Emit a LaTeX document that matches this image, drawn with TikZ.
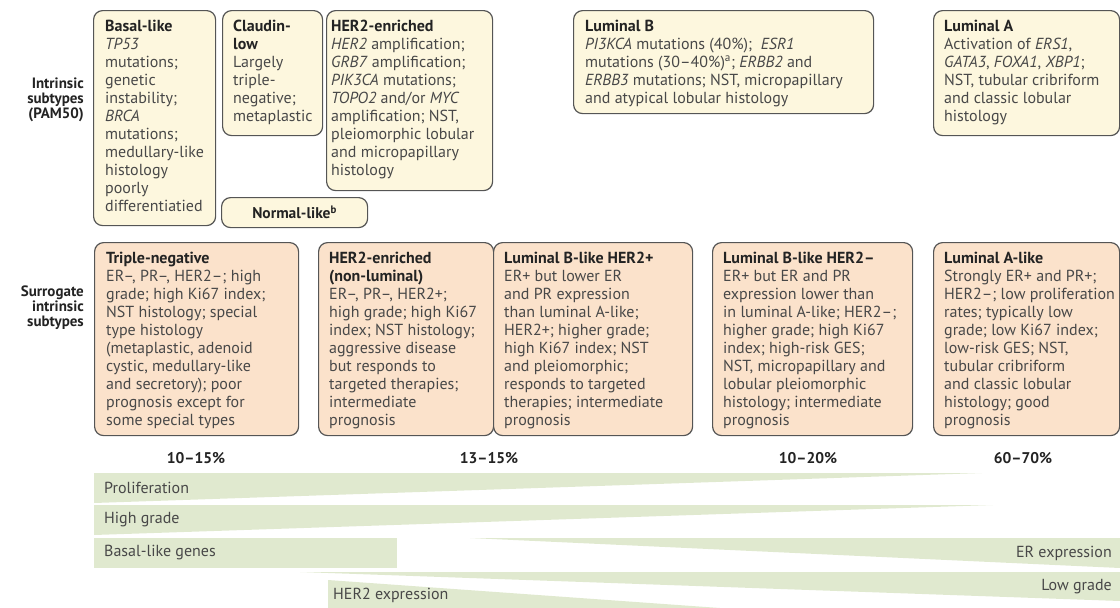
\documentclass[tikz,border=0pt]{standalone}
\usepackage{fontspec}
\setmainfont{PT Sans}
\definecolor{pamfill}{RGB}{253,247,222}
\definecolor{surfill}{RGB}{251,226,203}
\definecolor{bandfill}{RGB}{224,233,207}
\definecolor{boxline}{RGB}{85,85,85}
\definecolor{bodygray}{RGB}{72,72,72}
\definecolor{headgray}{RGB}{35,35,35}
\newcommand{\hdr}[1]{{\bfseries\color{headgray}#1}}

\begin{document}
\begin{tikzpicture}[x=1pt, y=-1pt,
    pam/.style={draw=boxline, fill=pamfill, line width=1.2pt, rounded corners=9pt, anchor=north west, inner sep=0pt},
    sur/.style={pam, fill=surfill},
    txt/.style={anchor=north west, align=left, inner sep=0pt, text=bodygray, font=\fontsize{16}{18}\selectfont},
    side/.style={anchor=east, align=right, inner sep=0pt, text=headgray, font=\bfseries\fontsize{15}{15}\selectfont},
    pct/.style={inner sep=0pt, text=headgray, font=\bfseries\fontsize{15.5}{18}\selectfont},
    band/.style={fill=bandfill},
    bandtxt/.style={inner sep=0pt, text=bodygray, font=\fontsize{16}{18}\selectfont}]
  \useasboundingbox (0,0) rectangle (1120,608);

  % Row labels
  \node[side] (pamlbl) at (84,100) {Intrinsic\\subtypes\\(PAM50)};
  \node[side] (surlbl) at (84,308) {Surrogate\\intrinsic\\subtypes};

  % Intrinsic subtypes (PAM50)
  \node[pam, minimum width=122pt, minimum height=215pt] (basal) at (93,10) {};
  \node[txt] (basaltxt) at ([shift={(12,10)}]basal.north west)
    {\hdr{Basal-like}\\\textit{TP53}\\mutations;\\genetic\\instability;\\\textit{BRCA}\\mutations;\\medullary-like\\histology\\poorly\\differentiatied};
  \node[pam, minimum width=100pt, minimum height=125pt] (claudin) at (222,10) {};
  \node[txt] (claudintxt) at ([shift={(11,10)}]claudin.north west)
    {\hdr{Claudin-}\\\hdr{low}\\Largely\\triple-\\negative;\\metaplastic};
  \node[pam, minimum width=166pt, minimum height=180pt] (her2pam) at (326,10) {};
  \node[txt] (her2pamtxt) at ([shift={(5,10)}]her2pam.north west)
    {\hdr{HER2-enriched}\\\textit{HER2} amplification;\\\textit{GRB7} amplification;\\\textit{PIK3CA} mutations;\\\textit{TOPO2} and/or \textit{MYC}\\amplification; NST,\\pleiomorphic lobular\\and micropapillary\\histology};
  \node[pam, minimum width=146pt, minimum height=30pt, text=headgray,
        font=\bfseries\fontsize{15.5}{18}\selectfont] (normal) at (221,197) {Normal-like\textsuperscript{b}};
  \node[pam, minimum width=300pt, minimum height=103pt] (lumb) at (573,10) {};
  \node[txt] (lumbtxt) at ([shift={(12,10)}]lumb.north west)
    {\hdr{Luminal B}\\\textit{PI3KCA} mutations (40\%);\ \ \textit{ESR1}\\mutations (30–40\%)\textsuperscript{a}; \textit{ERBB2} and\\\textit{ERBB3} mutations; NST, micropapillary\\and atypical lobular histology};
  \node[pam, minimum width=186pt, minimum height=125pt] (luma) at (933,10) {};
  \node[txt] (lumatxt) at ([shift={(11,10)}]luma.north west)
    {\hdr{Luminal A}\\Activation of \textit{ERS1},\\\textit{GATA3}, \textit{FOXA1}, \textit{XBP1};\\NST, tubular cribriform\\and classic lobular\\histology};

  % Surrogate intrinsic subtypes
  \node[sur, minimum width=204pt, minimum height=193pt] (triple) at (94,242) {};
  \node[txt] (tripletxt) at ([shift={(12,10)}]triple.north west)
    {\hdr{Triple-negative}\\ER–, PR–, HER2–; high\\grade; high Ki67 index;\\NST histology; special\\type histology\\(metaplastic, adenoid\\cystic, medullary-like\\and secretory); poor\\prognosis except for\\some special types};
  \node[sur, minimum width=175pt, minimum height=193pt] (her2sur) at (318,242) {};
  \node[txt] (her2surtxt) at ([shift={(11,10)}]her2sur.north west)
    {\hdr{HER2-enriched}\\\hdr{(non-luminal)}\\ER–, PR–, HER2+;\\high grade; high Ki67\\index; NST histology;\\aggressive disease\\but responds to\\targeted therapies;\\intermediate\\prognosis};
  \node[sur, minimum width=199pt, minimum height=193pt] (lumbpos) at (493,242) {};
  \node[txt] (lumbpostxt) at ([shift={(11,10)}]lumbpos.north west)
    {\hdr{Luminal B-like HER2+}\\ER+ but lower ER\\and PR expression\\than luminal A-like;\\HER2+; higher grade;\\high Ki67 index; NST\\and pleiomorphic;\\responds to targeted\\therapies; intermediate\\prognosis};
  \node[sur, minimum width=200pt, minimum height=193pt] (lumbneg) at (712,242) {};
  \node[txt] (lumbnegtxt) at ([shift={(11,10)}]lumbneg.north west)
    {\hdr{Luminal B-like HER2–}\\ER+ but ER and PR\\expression lower than\\in luminal A-like; HER2–;\\higher grade; high Ki67\\index; high-risk GES;\\NST, micropapillary and\\lobular pleiomorphic\\histology; intermediate\\prognosis};
  \node[sur, minimum width=186pt, minimum height=193pt] (lumalike) at (933,242) {};
  \node[txt] (lumaliketxt) at ([shift={(11,10)}]lumalike.north west)
    {\hdr{Luminal A-like}\\Strongly ER+ and PR+;\\HER2–; low proliferation\\rates; typically low\\grade; low Ki67 index;\\low-risk GES; NST,\\tubular cribriform\\and classic lobular\\histology; good\\prognosis};

  % Frequencies
  \node[pct] (freq1) at (196,458) {10–15\%};
  \node[pct] (freq2) at (489,458) {13–15\%};
  \node[pct] (freq3) at (808,458) {10–20\%};
  \node[pct] (freq4) at (1023,458) {60–70\%};

  % Gradient wedges
  \fill[band] (94,473) -- (982,473) -- (94,503) -- cycle;
  \fill[band] (94,505) -- (993,505) -- (94,535) -- cycle;
  \fill[band] (94,538) rectangle (397,568);
  \fill[band] (470,538) -- (1120,538) -- (1120,568) -- cycle;
  \fill[band] (300,572) -- (1120,572) -- (1120,601) -- cycle;
  \fill[band] (328,580) -- (720,608) -- (720,612) -- (328,612) -- cycle;
  \node[bandtxt, anchor=west] (prolif) at (104,488) {Proliferation};
  \node[bandtxt, anchor=west] (hgrade) at (104,520) {High grade};
  \node[bandtxt, anchor=west] (basgenes) at (104,553) {Basal-like genes};
  \node[bandtxt, anchor=east] (erexp) at (1112,553) {ER expression};
  \node[bandtxt, anchor=east] (lgrade) at (1112,587) {Low grade};
  \node[bandtxt, anchor=west] (her2exp) at (333,595) {HER2 expression};
\end{tikzpicture}
\end{document}
